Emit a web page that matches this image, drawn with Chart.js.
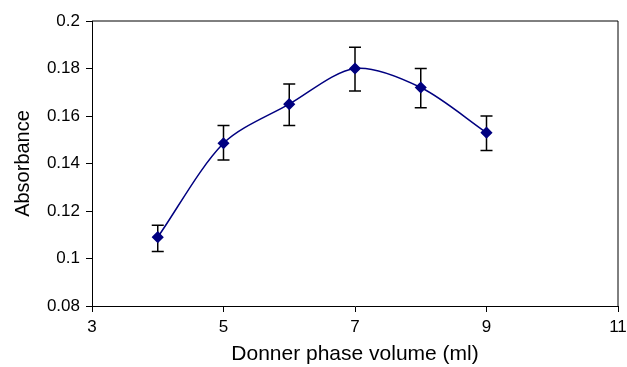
<!DOCTYPE html>
<html>
<head>
<meta charset="utf-8">
<script src="https://cdn.jsdelivr.net/npm/chart.js@4"></script>
<style>
  body { margin: 0; background: #fff; }
  #wrap { width: 627px; height: 367px; }
</style>
</head>
<body>
<div id="wrap"><canvas id="c"></canvas></div>
<script>
// 数据
const volumes = [4, 5, 6, 7, 8, 9];
const absorbance = [0.109, 0.1485, 0.165, 0.180, 0.172, 0.153];
const errHigh = [0.114, 0.156, 0.1735, 0.189, 0.180, 0.160];
const errLow = [0.103, 0.1415, 0.156, 0.1705, 0.1635, 0.1455];
const xTicks = [3, 5, 7, 9, 11];
const yTicks = [0.08, 0.1, 0.12, 0.14, 0.16, 0.18, 0.2];

// 误差线 + 外框
const errorBars = {
    id: 'errorBars',
    beforeDatasetsDraw(chart) {
        const { ctx, scales: { x, y } } = chart;
        ctx.save();
        ctx.strokeStyle = '#000';
        ctx.lineWidth = 1.5;
        volumes.forEach((v, i) => {
            const px = x.getPixelForValue(v);
            const top = y.getPixelForValue(errHigh[i]);
            const bot = y.getPixelForValue(errLow[i]);
            ctx.beginPath();
            ctx.moveTo(px, top); ctx.lineTo(px, bot);
            ctx.moveTo(px - 6, top); ctx.lineTo(px + 6, top);
            ctx.moveTo(px - 6, bot); ctx.lineTo(px + 6, bot);
            ctx.stroke();
        });
        ctx.restore();
    },
    afterDraw(chart) {
        const { ctx, chartArea: a } = chart;
        ctx.save();
        ctx.strokeStyle = '#000';
        ctx.lineWidth = 1;
        ctx.beginPath();
        ctx.moveTo(a.left, a.top); ctx.lineTo(a.right, a.top); ctx.lineTo(a.right, a.bottom);
        ctx.stroke();
        ctx.restore();
    }
};

const tickFont = { family: 'Liberation Sans, Arial, sans-serif', size: 17 };
const titleFont = { family: 'Liberation Sans, Arial, sans-serif', size: 20 };

new Chart(document.getElementById('c'), {
    type: 'scatter',
    data: {
        datasets: [{
            data: volumes.map((v, i) => ({ x: v, y: absorbance[i] })),
            showLine: true,
            tension: 0.3,
            borderColor: '#000080',
            borderWidth: 1.5,
            backgroundColor: '#000080',
            pointStyle: 'rectRot',
            pointRadius: 5,
            pointHoverRadius: 5
        }]
    },
    options: {
        responsive: true,
        maintainAspectRatio: false,
        animation: false,
        layout: { padding: { top: 21, right: 9, left: 0, bottom: 0 } },
        plugins: { legend: { display: false }, tooltip: { enabled: false } },
        scales: {
            x: {
                type: 'linear',
                min: 3, max: 11,
                afterBuildTicks: s => { s.ticks = xTicks.map(v => ({ value: v })); },
                afterFit: s => { s.height = 61; s.paddingLeft = 0; s.paddingRight = 0; },
                grid: { drawOnChartArea: false, color: '#000', tickLength: 6 },
                border: { color: '#000', width: 1 },
                ticks: { color: '#000', font: tickFont, padding: 5 },
                title: { display: true, text: 'Donner phase volume (ml)', color: '#000', font: { ...titleFont, size: 21 }, padding: { top: 0, bottom: 0 } }
            },
            y: {
                min: 0.08, max: 0.2,
                afterBuildTicks: s => { s.ticks = yTicks.map(v => ({ value: v })); },
                afterFit: s => { s.width = 92; s.paddingTop = 0; s.paddingBottom = 0; },
                grid: { drawOnChartArea: false, color: '#000', tickLength: 6 },
                border: { color: '#000', width: 1 },
                ticks: { color: '#000', font: tickFont, padding: 6, callback: v => String(Number(v.toFixed(2))) },
                title: { display: true, text: 'Absorbance', color: '#000', font: titleFont, padding: { top: 11, bottom: 0 } }
            }
        }
    },
    plugins: [errorBars]
});
</script>
</body>
</html>
